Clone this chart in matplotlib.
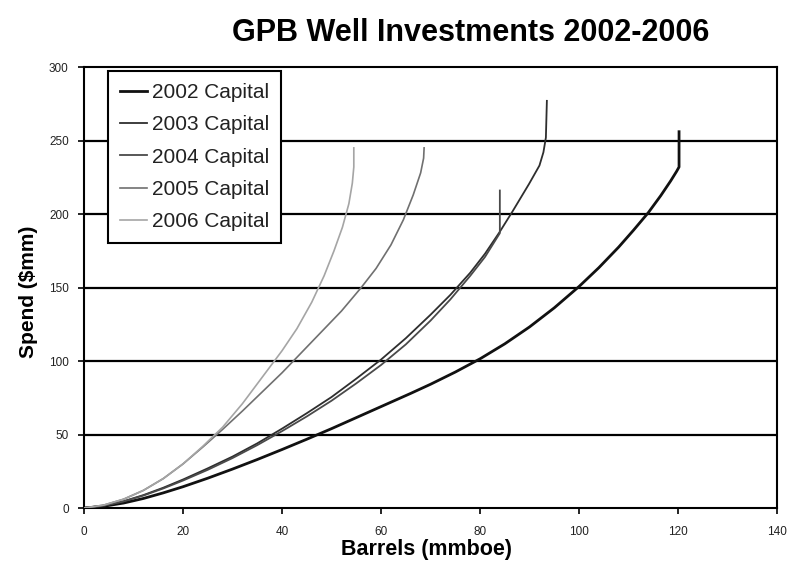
import matplotlib
matplotlib.use('Agg')
import matplotlib.pyplot as plt

plt.rcParams['font.family'] = ['Liberation Sans', 'DejaVu Sans']

# barrels (mmboe) vs spend ($mm)
x_2002 = [0, 4, 8, 12, 16, 20, 25, 30, 35, 40, 45, 50, 55, 60, 66, 70, 75, 80, 85, 90,
          95, 100, 104, 108, 111, 114, 116.5, 118.5, 119.7, 120.2, 120.2]
y_2002 = [0, 1.2, 3.4, 6.5, 10.3, 14.5, 20.3, 26.5, 33, 39.8, 46.8, 54, 61.5, 69, 78, 84.2,
          92.5, 101.5, 111.7, 123.2, 136.2, 150.7, 163.5, 177.5, 189, 201, 212.5, 222.5,
          229, 232, 256]

x_2003 = [0, 4, 8, 12, 16, 20, 25, 30, 35, 40, 45, 50, 55, 60, 65, 70, 74, 78, 81, 84,
          86.6, 89.9, 92, 92.8, 93.3, 93.5]
y_2003 = [0, 1.6, 4.6, 8.8, 13.8, 19.4, 27, 35, 44, 54, 64.5, 75.5, 88, 101, 115.5, 131.5,
          145, 160, 173, 188, 202, 220.5, 233, 242, 252, 277]

x_2004 = [0, 4, 8, 12, 16, 20, 25, 30, 35, 40, 45, 50, 55, 60, 65, 70, 74, 78, 81, 84, 84]
y_2004 = [0, 1.6, 4.5, 8.5, 13.3, 18.7, 26, 34, 42.8, 52.3, 62.3, 73, 84.8, 97.3, 111.3,
          127.5, 141.9, 157.9, 170.8, 187, 216]

x_2005 = [0, 4, 8, 12, 16, 20, 24, 28, 32, 36, 40, 44, 48, 52, 56, 59, 62, 64.5, 66.5,
          68, 68.6, 68.7]
y_2005 = [0, 2, 6, 12, 20, 30, 41.5, 53.5, 66, 79, 92, 106, 120, 134, 150, 163, 179, 196,
          213, 228, 238, 245]

x_2006 = [0, 4, 8, 12, 16, 20, 24, 28, 32, 36, 40, 43, 46, 48.5, 50.5, 52.2, 53.5, 54.2,
          54.5, 54.5]
y_2006 = [0, 2, 6, 12, 20, 30, 42, 55, 71, 89, 107, 122, 140, 158, 175, 191, 207, 221,
          232, 245]

labels = ['2002 Capital', '2003 Capital', '2004 Capital', '2005 Capital', '2006 Capital']
colors = ['#111111', '#2e2e2e', '#4a4a4a', '#707070', '#a5a5a5']
widths = [2.0, 1.3, 1.3, 1.2, 1.2]

xticks = [0, 20, 40, 60, 80, 100, 120, 140]
yticks = [0, 50, 100, 150, 200, 250, 300]

fig = plt.figure(figsize=(8.04, 5.83), dpi=100)
ax = fig.add_axes([0.1045, 0.1286, 0.862, 0.7564])

for y in yticks[1:-1]:
    ax.axhline(y, color='black', lw=1.6, zorder=1)

series = [(x_2002, y_2002), (x_2003, y_2003), (x_2004, y_2004), (x_2005, y_2005), (x_2006, y_2006)]
for (xs, ys), lab, c, w in zip(series, labels, colors, widths):
    ax.plot(xs, ys, color=c, lw=w, label=lab, zorder=3, solid_joinstyle='round')

ax.set_xlim(0, 140)
ax.set_ylim(0, 300)
ax.set_xticks(xticks)
ax.set_yticks(yticks)
ax.tick_params(axis='both', labelsize=8.5, labelcolor='#222222', direction='out',
               length=4, width=1.2)
ax.tick_params(axis='y', pad=7)
ax.tick_params(axis='x', pad=9)
for sp in ax.spines.values():
    sp.set_linewidth(1.5)
    sp.set_color('black')

leg = ax.legend(loc='upper left', bbox_to_anchor=(0.035, 0.99), borderaxespad=0,
                fontsize=15, frameon=True, fancybox=False, framealpha=1,
                edgecolor='black', handlelength=1.3, handletextpad=0.25,
                labelspacing=0.64, borderpad=0.55)
leg.get_frame().set_linewidth(1.5)
for t in leg.get_texts():
    t.set_color('#222222')

fig.text(0.586, 0.943, 'GPB Well Investments 2002-2006', ha='center', va='center',
         fontsize=22, fontweight='bold')
fig.text(0.53, 0.057, 'Barrels (mmboe)', ha='center', va='center',
         fontsize=15.5, fontweight='bold')
fig.text(0.036, 0.5, 'Spend ($mm)', ha='center', va='center', rotation=90,
         fontsize=15, fontweight='bold')

fig.savefig('out.png', dpi=100)
